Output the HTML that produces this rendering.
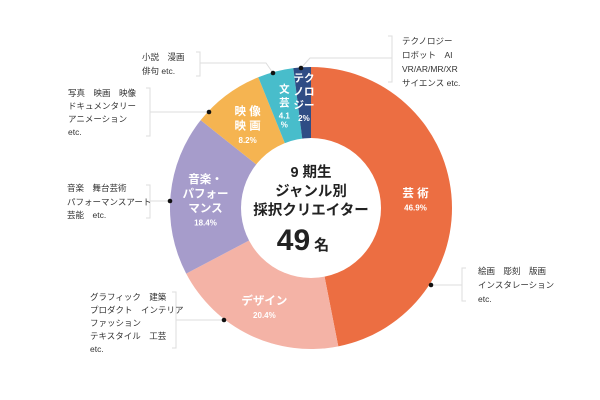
<!DOCTYPE html>
<html><head><meta charset="utf-8">
<style>
body{margin:0;width:600px;height:400px;background:#fff;overflow:hidden}
svg{display:block}
text{font-family:"Liberation Sans","Noto Sans CJK JP",sans-serif}
.note{font-size:8.5px;fill:#333}
.seg{fill:#fff;font-weight:bold;text-anchor:middle}
</style></head><body>
<svg id="chart" width="600" height="400">
<g id="slices"></g>
<circle cx="311" cy="208" r="70" fill="#fff"/>
<g font-weight="bold" text-anchor="middle" fill="#222">
<text x="311" y="177" font-size="14.5">9 期生</text>
<text x="311" y="196" font-size="14.5">ジャンル別</text>
<text x="311" y="215" font-size="14.5">採択クリエイター</text>
<text x="303" y="250" font-size="30">49<tspan font-size="15" dx="4">名</tspan></text>
</g>
<g id="labels"></g>
<g stroke="#ddd" stroke-width="1" fill="none">
<path d="M301 68 L310 58 L392 58"/><path d="M388 36 L392 36 L392 82 L388 82"/>
<path d="M273 73 L266 63 L200 63"/><path d="M196 52 L200 52 L200 76 L196 76"/>
<path d="M209 112 L150 112"/><path d="M146 88 L150 88 L150 136 L146 136"/>
<path d="M170 201 L150 201"/><path d="M146 185 L150 185 L150 218 L146 218"/>
<path d="M224 320 L176 320"/><path d="M172 292 L176 292 L176 348 L172 348"/>
<path d="M431 285 L462 285"/><path d="M466 268 L462 268 L462 301 L466 301"/>
</g>
<g fill="#111">
<circle cx="301" cy="68" r="2.3"/><circle cx="273" cy="73" r="2.3"/><circle cx="209" cy="112" r="2.3"/>
<circle cx="170" cy="201" r="2.3"/><circle cx="224" cy="320" r="2.3"/><circle cx="431" cy="285" r="2.3"/>
</g>
<g class="note">
<text x="402" y="44" class="note">テクノロジー</text><text x="402" y="58" class="note">ロボット　AI</text>
<text x="402" y="72" class="note">VR/AR/MR/XR</text><text x="402" y="86" class="note">サイエンス etc.</text></g>
<g>
<text x="142" y="60" class="note">小説　漫画</text><text x="142" y="74" class="note">俳句 etc.</text></g>
<g>
<text x="68" y="96" class="note">写真　映画　映像</text><text x="68" y="109" class="note">ドキュメンタリー</text>
<text x="68" y="122" class="note">アニメーション</text><text x="68" y="135" class="note">etc.</text></g>
<g>
<text x="67" y="191" class="note">音楽　舞台芸術</text><text x="67" y="205" class="note">パフォーマンスアート</text>
<text x="67" y="218" class="note">芸能　etc.</text></g>
<g>
<text x="90" y="300" class="note">グラフィック　建築</text><text x="90" y="313" class="note">プロダクト　インテリア</text>
<text x="90" y="326" class="note">ファッション</text><text x="90" y="339" class="note">テキスタイル　工芸</text>
<text x="90" y="352" class="note">etc.</text></g>
<g>
<text x="478" y="274" class="note">絵画　彫刻　版画</text><text x="478" y="288" class="note">インスタレーション</text>
<text x="478" y="302" class="note">etc.</text></g>
</svg>
<script>
const categories=["芸術","デザイン","音楽・パフォーマンス","映像映画","文芸","テクノロジー"];
const values=[46.9,20.4,18.4,8.2,4.1,2];
const valueLabels=["46.9%","20.4%","18.4%","8.2%","4.1\n%","2%"];
const colors=["#EC6E42","#F4B3A6","#A69CCB","#F5B451","#48BDCB","#2F4D85"];
const labelLines=[["芸 術"],["デザイン"],["音楽・","パフォー","マンス"],["映 像","映 画"],["文","芸"],["テク","ノロ","ジー"]];
const cx=311,cy=208,R=141;
const NS="http://www.w3.org/2000/svg";
const total=values.reduce((a,b)=>a+b,0);
function ang(v){return v/total*2*Math.PI;}
function pt(a,r){return [cx+r*Math.sin(a),cy-r*Math.cos(a)];}
let a0=0;
const gs=document.getElementById('slices'),gl=document.getElementById('labels');
const labelR=[105,108,106,106,106,112];
values.forEach((v,i)=>{
 const a1=a0+ang(v);
 const [x0,y0]=pt(a0,R),[x1,y1]=pt(a1,R);
 const p=document.createElementNS(NS,'path');
 p.setAttribute('d',`M${cx} ${cy} L${x0} ${y0} A${R} ${R} 0 ${a1-a0>Math.PI?1:0} 1 ${x1} ${y1}Z`);
 p.setAttribute('fill',colors[i]);
 
 
 gs.appendChild(p);
 const am=(a0+a1)/2;const [lx,ly]=pt(am,labelR[i]);
 const g=document.createElementNS(NS,'g');
 
 
 const lines=labelLines[i];const fs=i>=4?10.5:11.5;const lh=fs+3;
 const pl=valueLabels[i].split('\n');
 const totalH=lines.length*lh+pl.length*10;
 let y=ly-totalH/2+fs;
 lines.forEach(t=>{const e=document.createElementNS(NS,'text');e.setAttribute('x',lx);e.setAttribute('y',y);e.setAttribute('class','seg');e.setAttribute('font-size',fs);e.textContent=t;g.appendChild(e);y+=lh;});
 y-=1;
 pl.forEach(t=>{const e=document.createElementNS(NS,'text');e.setAttribute('x',lx);e.setAttribute('y',y);e.setAttribute('class','seg');e.setAttribute('font-size',8);e.setAttribute('font-weight','normal');e.textContent=t;g.appendChild(e);y+=9;});
 gl.appendChild(g);
 a0=a1;
});
</script>
</body></html>
